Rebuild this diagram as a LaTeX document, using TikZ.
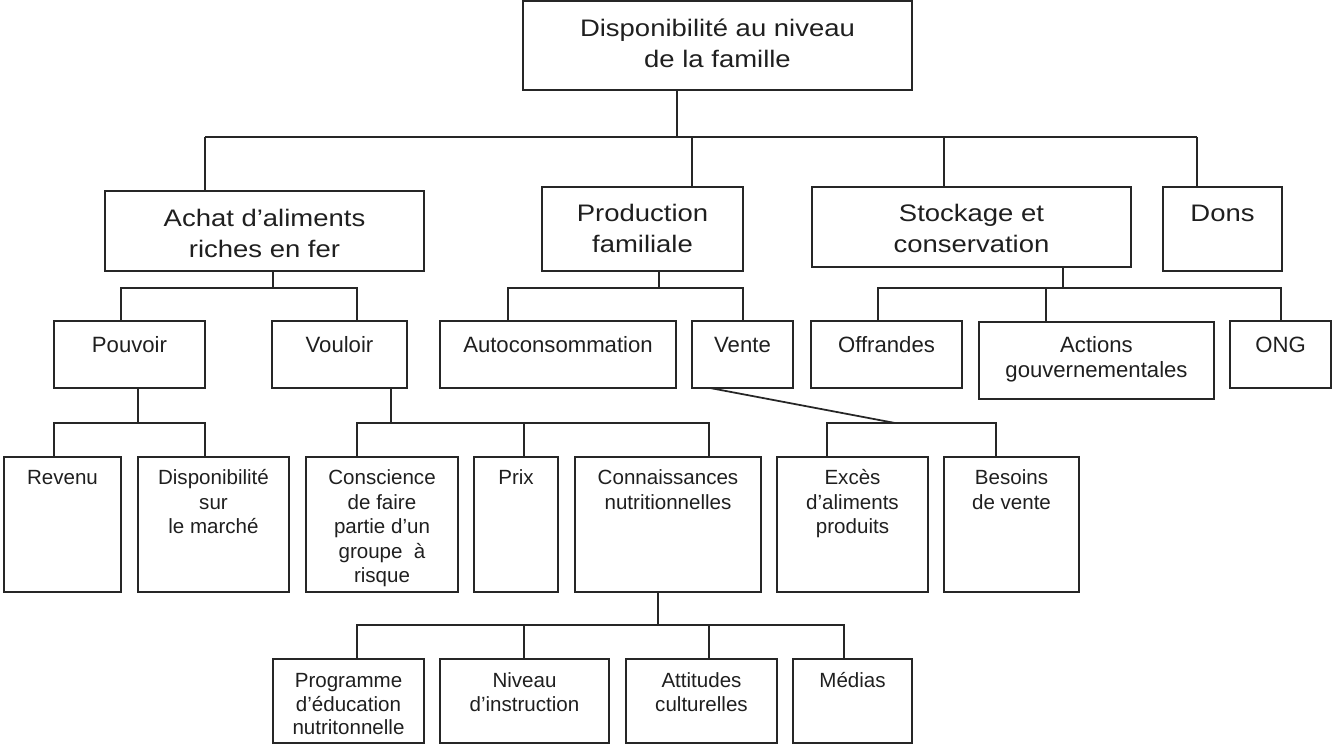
\documentclass[tikz,border=0pt]{standalone}
\usepackage{fontspec}
\setmainfont{Liberation Sans}
\newfontfamily\bigfont[FakeStretch=1.15]{Liberation Sans}
\newcommand\mkbox[5]{\node[box, anchor=north west, minimum width={(#4-#2)*0.02cm}, minimum height={(#5-#3)*0.02cm}] (#1) at (#2,#3) {};}
\newcommand\st{\rule{0pt}{0.95em}}
\begin{document}
\begin{tikzpicture}[x=0.02cm,y=-0.02cm,
  box/.style={draw=black!85, line width=1pt, inner sep=0pt, outer sep=0pt},
  conn/.style={draw=black!85, line width=1pt},
  txt/.style={inner sep=0pt, outer sep=0pt, align=center, anchor=north, text=black!88},
  bigt/.style={txt, font=\bigfont\fontsize{13.6pt}{17.4pt}\selectfont},
  midt/.style={txt, font=\fontsize{12.6pt}{14.2pt}\selectfont},
  smlt/.style={txt, font=\fontsize{11.7pt}{13.9pt}\selectfont},
  lowt/.style={txt, font=\fontsize{11.7pt}{13.3pt}\selectfont}]
\useasboundingbox (0,0) rectangle (1332,746);
% boxes
\mkbox{top}{523}{1}{912}{90}
\mkbox{achat}{105}{191}{424}{271}
\mkbox{prod}{542}{187}{743}{271}
\mkbox{stock}{812}{187}{1131}{267}
\mkbox{dons}{1163}{187}{1282}{271}
\mkbox{pouv}{54}{321}{205}{388}
\mkbox{voul}{272}{321}{407}{388}
\mkbox{auto}{440}{321}{676}{388}
\mkbox{vente}{692}{321}{793}{388}
\mkbox{offr}{811}{321}{962}{388}
\mkbox{act}{979}{322}{1214}{399}
\mkbox{ong}{1230}{321}{1331}{388}
\mkbox{rev}{4}{457}{121}{592}
\mkbox{dispo}{138}{457}{289}{592}
\mkbox{consc}{306}{457}{458}{592}
\mkbox{prix}{474}{457}{558}{592}
\mkbox{conn}{575}{457}{761}{592}
\mkbox{exces}{777}{457}{928}{592}
\mkbox{bes}{944}{457}{1079}{592}
\mkbox{prog}{273}{659}{424}{743}
\mkbox{niv}{440}{659}{609}{743}
\mkbox{att}{626}{659}{777}{743}
\mkbox{med}{793}{659}{912}{743}
% texts
\node[bigt] (top-t) at (top.north |- 0,14.2) {\st Disponibilité au niveau\\de la famille};
\node[bigt] (achat-t) at (achat.north |- 0,204.2) {\st Achat d’aliments\\riches en fer};
\node[bigt] (prod-t) at (prod.north |- 0,199.2) {\st Production\\familiale};
\node[bigt] (stock-t) at (stock.north |- 0,199.2) {\st Stockage et\\conservation};
\node[bigt] (dons-t) at (dons.north |- 0,199.2) {\st Dons};
\node[midt] (pouv-t) at (pouv.north |- 0,331.9) {\st Pouvoir};
\node[midt] (voul-t) at (voul.north |- 0,331.9) {\st Vouloir};
\node[midt] (auto-t) at (auto.north |- 0,331.9) {\st Autoconsommation};
\node[midt] (vente-t) at (vente.north |- 0,331.9) {\st Vente};
\node[midt] (offr-t) at (offr.north |- 0,331.9) {\st Offrandes};
\node[midt] (act-t) at (act.north |- 0,331.9) {\st Actions\\gouvernementales};
\node[midt] (ong-t) at (ong.north |- 0,331.9) {\st ONG};
\node[smlt] (rev-t) at (rev.north |- 0,465.4) {\st Revenu};
\node[smlt] (dispo-t) at (dispo.north |- 0,465.4) {\st Disponibilité\\sur\\le marché};
\node[smlt] (consc-t) at (consc.north |- 0,465.4) {\st Conscience\\de faire\\partie d’un\\groupe\ \ à\\risque};
\node[smlt] (prix-t) at (prix.north |- 0,465.4) {\st Prix};
\node[smlt] (conn-t) at (conn.north |- 0,465.4) {\st Connaissances\\nutritionnelles};
\node[smlt] (exces-t) at (exces.north |- 0,465.4) {\st Excès\\d’aliments\\produits};
\node[smlt] (bes-t) at (bes.north |- 0,465.4) {\st Besoins\\de vente};
\node[lowt] (prog-t) at (prog.north |- 0,668.4) {\st Programme\\d’éducation\\nutritonnelle};
\node[lowt] (niv-t) at (niv.north |- 0,668.4) {\st Niveau\\d’instruction};
\node[lowt] (att-t) at (att.north |- 0,668.4) {\st Attitudes\\culturelles};
\node[lowt] (med-t) at (med.north |- 0,668.4) {\st Médias};
% level 0 -> 1
\coordinate (s0) at (677,137);
\coordinate (b0l) at (205,137);
\coordinate (b0p) at (692,137);
\coordinate (b0s) at (944,137);
\coordinate (b0r) at (1197,137);
\draw[conn] (s0 |- top.south) -- (s0);
\draw[conn] (b0l) -- (b0r);
\draw[conn] (b0l) -- (b0l |- achat.north);
\draw[conn] (b0p) -- (b0p |- prod.north);
\draw[conn] (b0s) -- (b0s |- stock.north);
\draw[conn] (b0r) -- (b0r |- dons.north);
% achat -> pouvoir, vouloir
\coordinate (s1) at (273,288);
\coordinate (b1l) at (121,288);
\coordinate (b1r) at (357,288);
\draw[conn] (s1 |- achat.south) -- (s1);
\draw[conn] (b1l |- pouv.north) -- (b1l) -- (b1r) -- (b1r |- voul.north);
% production -> auto, vente
\coordinate (s2) at (659,288);
\coordinate (b2l) at (508,288);
\coordinate (b2r) at (743,288);
\draw[conn] (s2 |- prod.south) -- (s2);
\draw[conn] (b2l |- auto.north) -- (b2l) -- (b2r) -- (b2r |- vente.north);
% stockage -> offrandes, actions, ONG
\coordinate (s3) at (1063,288);
\coordinate (b3l) at (878,288);
\coordinate (b3m) at (1046,288);
\coordinate (b3r) at (1281,288);
\draw[conn] (s3 |- stock.south) -- (s3);
\draw[conn] (b3l |- offr.north) -- (b3l) -- (b3r) -- (b3r |- ong.north);
\draw[conn] (b3m) -- (b3m |- act.north);
% pouvoir -> revenu, dispo
\coordinate (s4) at (138,423);
\coordinate (b4l) at (54,423);
\coordinate (b4r) at (205,423);
\draw[conn] (s4 |- pouv.south) -- (s4);
\draw[conn] (b4l |- rev.north) -- (b4l) -- (b4r) -- (b4r |- dispo.north);
% vouloir -> conscience, prix, connaissances
\coordinate (s5) at (391,423);
\coordinate (b5l) at (357,423);
\coordinate (b5m) at (524,423);
\coordinate (b5r) at (709,423);
\draw[conn] (s5 |- voul.south) -- (s5);
\draw[conn] (b5l |- consc.north) -- (b5l) -- (b5r) -- (b5r |- conn.north);
\draw[conn] (b5m) -- (b5m |- prix.north);
% vente -> exces, besoins
\coordinate (s6) at (710,388);
\coordinate (s6e) at (895,423);
\coordinate (b6l) at (827,423);
\coordinate (b6r) at (996,423);
\draw[conn] (s6) -- (s6e);
\draw[conn] (b6l |- exces.north) -- (b6l) -- (b6r) -- (b6r |- bes.north);
% connaissances -> prog, niveau, attitudes, medias
\coordinate (s7) at (658,625);
\coordinate (b7a) at (357,625);
\coordinate (b7b) at (524,625);
\coordinate (b7c) at (709,625);
\coordinate (b7d) at (844,625);
\draw[conn] (s7 |- conn.south) -- (s7);
\draw[conn] (b7a |- prog.north) -- (b7a) -- (b7d) -- (b7d |- med.north);
\draw[conn] (b7b) -- (b7b |- niv.north);
\draw[conn] (b7c) -- (b7c |- att.north);
\end{tikzpicture}
\end{document}
